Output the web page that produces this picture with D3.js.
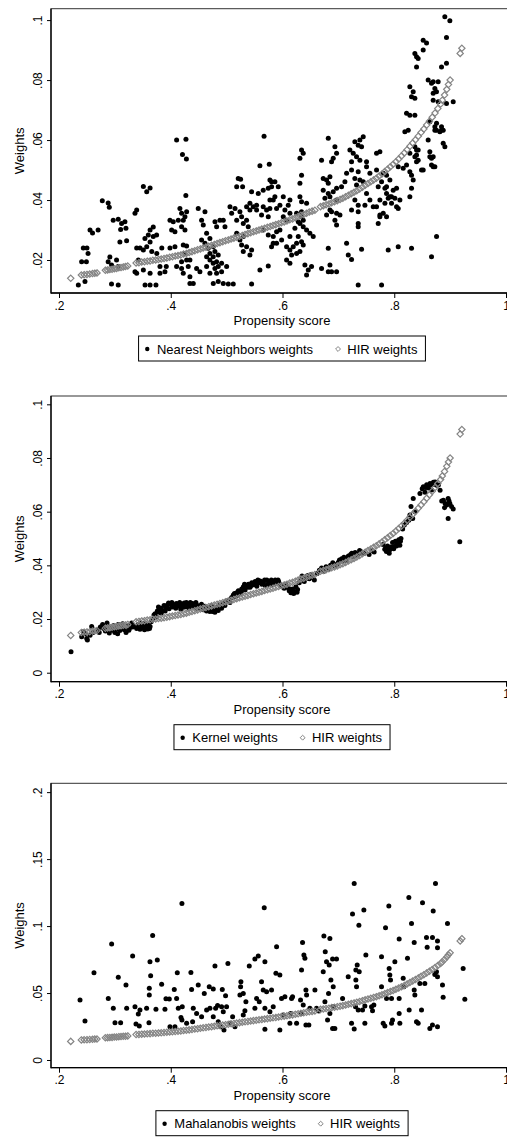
<!DOCTYPE html>
<html>
<head>
<meta charset="utf-8">
<script src="https://cdn.jsdelivr.net/npm/d3@7"></script>
<style>
  body { margin: 0; background: #fff; }
  svg { display: block; font-family: "Liberation Sans", Arial, sans-serif; }
</style>
</head>
<body>
<script>
// propensity score ticks, shared by the three panels
const xTicks = [0.2, 0.4, 0.6, 0.8, 1]

const yTicksNN = [0.02, 0.04, 0.06, 0.08, 0.1]
const yTicksKernel = [0, 0.02, 0.04, 0.06, 0.08, 0.1]
const yTicksMaha = [0, 0.05, 0.1, 0.15, 0.2]

const seriesNames = ['Nearest Neighbors weights', 'Kernel weights', 'Mahalanobis weights']
const hirName = 'HIR weights'

// [propensity score, weight]
const hirWeights = [
  [0.221, 0.0139],
  [0.240, 0.0150], [0.245, 0.0151], [0.250, 0.0152], [0.255, 0.0153], [0.260, 0.0155], [0.264, 0.0156], [0.268, 0.0157],
  [0.283, 0.0166], [0.287, 0.0167], [0.291, 0.0168], [0.295, 0.0169], [0.299, 0.0171], [0.303, 0.0172], [0.307, 0.0174],
  [0.311, 0.0175], [0.315, 0.0177], [0.319, 0.0178], [0.323, 0.0180],
  [0.338, 0.0190], [0.343, 0.0191], [0.348, 0.0193], [0.353, 0.0194], [0.358, 0.0196], [0.363, 0.0197], [0.368, 0.0199],
  [0.373, 0.0200], [0.378, 0.0202], [0.383, 0.0203], [0.388, 0.0205], [0.393, 0.0207], [0.398, 0.0209], [0.403, 0.0211],
  [0.408, 0.0213], [0.413, 0.0215], [0.418, 0.0217], [0.423, 0.0220], [0.428, 0.0222], [0.433, 0.0225], [0.438, 0.0228],
  [0.443, 0.0231], [0.448, 0.0234], [0.453, 0.0237], [0.458, 0.0240], [0.463, 0.0243], [0.468, 0.0246], [0.473, 0.0249],
  [0.478, 0.0252], [0.483, 0.0255], [0.488, 0.0258], [0.493, 0.0261], [0.498, 0.0264], [0.503, 0.0267], [0.508, 0.0270],
  [0.513, 0.0273], [0.518, 0.0276], [0.523, 0.0279], [0.528, 0.0282], [0.533, 0.0285], [0.538, 0.0288], [0.543, 0.0291],
  [0.548, 0.0294], [0.553, 0.0297], [0.558, 0.0300], [0.563, 0.0303], [0.568, 0.0306], [0.573, 0.0309], [0.578, 0.0312],
  [0.583, 0.0315], [0.588, 0.0318], [0.593, 0.0321], [0.598, 0.0324], [0.603, 0.0327], [0.608, 0.0330], [0.613, 0.0334],
  [0.618, 0.0337], [0.623, 0.0341], [0.628, 0.0345], [0.633, 0.0349], [0.638, 0.0352], [0.643, 0.0356], [0.648, 0.0360],
  [0.653, 0.0363], [0.658, 0.0366],
  [0.668, 0.0378], [0.673, 0.0381], [0.678, 0.0384], [0.683, 0.0387], [0.688, 0.0391], [0.693, 0.0394], [0.698, 0.0398],
  [0.703, 0.0402], [0.708, 0.0406], [0.713, 0.0411], [0.718, 0.0416], [0.723, 0.0421], [0.728, 0.0426], [0.733, 0.0431],
  [0.738, 0.0437], [0.743, 0.0443], [0.748, 0.0449], [0.753, 0.0455], [0.758, 0.0461], [0.763, 0.0467], [0.768, 0.0473],
  [0.773, 0.0480], [0.778, 0.0487], [0.783, 0.0495], [0.788, 0.0503], [0.793, 0.0511], [0.798, 0.0519], [0.803, 0.0528],
  [0.808, 0.0537], [0.813, 0.0547], [0.818, 0.0557], [0.823, 0.0568], [0.828, 0.0579], [0.833, 0.0590], [0.838, 0.0601],
  [0.843, 0.0613], [0.848, 0.0625], [0.853, 0.0637], [0.858, 0.0650], [0.863, 0.0663], [0.868, 0.0676], [0.873, 0.0690],
  [0.878, 0.0705], [0.883, 0.0720], [0.886, 0.0733], [0.890, 0.0750], [0.894, 0.0769], [0.897, 0.0785], [0.900, 0.0800],
  [0.918, 0.0889], [0.921, 0.0906]
]

const nnWeights = [
  [.4105, .0600], [.4272, .0603], [.4210, .0552], [.4280, .0537], [.5670, .0613], [.5596, .0514], [.5763, .0519], [.4270, .0415],
  [.3510, .0445], [.3630, .0440], [.3570, .0428], [.2775, .0398], [.2880, .0390], [.2900, .0376], [.3390, .0367], [.3360, .0356],
  [.2555, .0300], [.2600, .0290], [.2700, .0300], [.2435, .0240], [.2500, .0240], [.2520, .0222], [.2405, .0194], [.2490, .0194],
  [.2346, .0117], [.2465, .0128],
  [.2910, .0210], [.2880, .0194], [.2940, .0183], [.3030, .0200], [.3060, .0178], [.2940, .0120], [.3060, .0117],
  [.2970, .0333], [.3060, .0336], [.3120, .0322], [.3180, .0328], [.3103, .0302], [.3198, .0306], [.3090, .0260], [.3210, .0264],
  [.3390, .0240], [.3450, .0240], [.3360, .0161], [.3390, .0156], [.3510, .0167], [.3630, .0156], [.3540, .0117], [.3630, .0117],
  [.3735, .0117], [.3420, .0200],
  [.3630, .0300], [.3687, .0310], [.3598, .0283], [.3687, .0278], [.3747, .0283], [.3538, .0272], [.3630, .0260], [.3570, .0244],
  [.3510, .0233], [.3660, .0228], [.3750, .0222], [.3840, .0240], [.3807, .0178], [.3920, .0178], [.3896, .0161], [.3807, .0156],
  [.3986, .0333], [.4045, .0328], [.4135, .0333], [.4164, .0372], [.4194, .0356], [.4254, .0344], [.4284, .0361], [.4224, .0333],
  [.4194, .0311], [.4254, .0300],
  [.4016, .0300], [.4075, .0294], [.3986, .0240], [.4075, .0244], [.4224, .0250], [.4284, .0247], [.4254, .0222], [.4194, .0194],
  [.4284, .0200], [.4343, .0200],
  [.4105, .0178], [.4194, .0172], [.4313, .0178], [.4224, .0156], [.4343, .0144], [.4343, .0122], [.4403, .0122],
  [.4492, .0372], [.4612, .0361], [.4552, .0333], [.4582, .0317], [.4642, .0289],
  [.4552, .0267], [.4612, .0256], [.4701, .0272], [.4671, .0239], [.4760, .0244], [.4701, .0222], [.4790, .0228], [.4850, .0217],
  [.4760, .0211], [.4642, .0211], [.4701, .0200], [.4760, .0189], [.4820, .0194], [.4850, .0178], [.4910, .0189], [.4790, .0172],
  [.4642, .0178], [.4463, .0172], [.4522, .0161], [.4701, .0156], [.4820, .0156], [.4910, .0161], [.5000, .0178],
  [.4761, .0122], [.4850, .0128], [.4940, .0122], [.5030, .0120], [.5119, .0120],
  [.4791, .0328], [.4880, .0333], [.4821, .0311], [.4940, .0333], [.4970, .0311],
  [.5060, .0378], [.5150, .0372], [.5090, .0356], [.5180, .0333], [.5238, .0361], [.5268, .0344], [.5298, .0322], [.5357, .0333],
  [.5387, .0311], [.5208, .0472], [.5286, .0444], [.5180, .0444], [.5250, .0469],
  [.5357, .0378], [.5417, .0367], [.5477, .0378], [.5536, .0367], [.5417, .0389], [.5536, .0383], [.5655, .0378], [.5715, .0367],
  [.5625, .0350], [.5745, .0344],
  [.5447, .0428], [.5566, .0422], [.5655, .0433], [.5745, .0439], [.5804, .0461], [.5834, .0400], [.5894, .0372], [.5774, .0372],
  [.5180, .0289], [.5238, .0267], [.5298, .0278], [.5268, .0250], [.5357, .0244], [.5447, .0233], [.5417, .0217], [.5298, .0228],
  [.5655, .0300], [.5745, .0283], [.5804, .0244], [.5834, .0256], [.5894, .0294],
  [.5596, .0167], [.5745, .0180], [.5447, .0120],
  [.6819, .0606], [.6341, .0567], [.6312, .0539], [.6371, .0556],
  [.6699, .0533], [.6878, .0528], [.6908, .0539], [.6968, .0556], [.6938, .0578],
  [.7206, .0567], [.7295, .0594], [.7355, .0583], [.7445, .0611], [.7385, .0600], [.7415, .0578], [.7266, .0556], [.7325, .0544],
  [.7385, .0533], [.7504, .0528], [.7236, .0528], [.7683, .0556], [.7743, .0561],
  [.7236, .0500], [.7355, .0494], [.7295, .0472], [.7385, .0467], [.7504, .0511], [.7564, .0489], [.7325, .0450], [.7445, .0461],
  [.7683, .0500], [.7803, .0489], [.7862, .0483], [.7773, .0461], [.7922, .0467], [.7713, .0444], [.7833, .0439],
  [.7862, .0444], [.7981, .0433], [.8041, .0439], [.7922, .0411], [.8011, .0406], [.8101, .0400], [.7951, .0389], [.8041, .0378],
  [.8071, .0372],
  [.8071, .0511], [.8160, .0506], [.8220, .0517], [.8279, .0494], [.8309, .0483], [.8339, .0467], [.8309, .0439], [.8399, .0528],
  [.8399, .0550], [.8428, .0567],
  [.8279, .0411], [.7862, .0422], [.7743, .0400], [.7683, .0378], [.7862, .0344], [.7743, .0350],
  [.8518, .0500], [.8637, .0544], [.8697, .0511], [.8667, .0539],
  [.8607, .0600], [.8876, .0589], [.8906, .0578], [.8757, .0656], [.8727, .0633], [.8846, .0633], [.8190, .0628], [.8250, .0633],
  [.8279, .0683], [.8369, .0683], [.8220, .0689],
  [.8757, .0278], [.8667, .0211], [.8309, .0239], [.8071, .0244], [.7892, .0233],
  [.7355, .0117], [.7773, .0117],
  [.7147, .0256], [.7177, .0217], [.7236, .0202], [.7415, .0236], [.6819, .0239],
  [.6849, .0183], [.6819, .0161], [.6878, .0161], [.6968, .0161], [.6699, .0172],
  [.6401, .0183], [.6461, .0167], [.6520, .0178], [.6431, .0150], [.6073, .0200], [.6133, .0189],
  [.5894, .0256], [.5984, .0267], [.6073, .0244], [.6133, .0233], [.6192, .0244], [.6252, .0222], [.6312, .0228], [.6163, .0217],
  [.6252, .0256], [.6371, .0250], [.6490, .0289], [.6550, .0278], [.6431, .0300], [.6371, .0311],
  [.6312, .0322], [.6222, .0306], [.6282, .0278], [.6341, .0261], [.6133, .0278], [.5954, .0300], [.5835, .0278],
  [.5775, .0400], [.5864, .0411], [.6014, .0411], [.5954, .0383], [.6103, .0383], [.6133, .0400], [.6312, .0411], [.6341, .0394],
  [.6431, .0389],
  [.6043, .0367], [.6014, .0344], [.6073, .0333], [.6133, .0356], [.6341, .0361], [.6341, .0344], [.6252, .0356], [.6371, .0333],
  [.6282, .0328],
  [.5775, .0467], [.5864, .0461], [.5924, .0444], [.5805, .0444], [.6341, .0483], [.6312, .0456],
  [.6729, .0472], [.6789, .0467], [.6849, .0478], [.6819, .0456], [.6729, .0433], [.6819, .0422], [.6759, .0406], [.6849, .0411],
  [.6908, .0428], [.6968, .0439],
  [.7057, .0444], [.7117, .0461], [.7147, .0489], [.6968, .0400], [.6968, .0356], [.7028, .0350], [.6878, .0361], [.6938, .0333],
  [.6968, .0317], [.6789, .0350], [.6849, .0367],
  [.7295, .0400], [.7355, .0383], [.7236, .0367], [.7355, .0361], [.7475, .0383], [.7564, .0400], [.7504, .0422], [.7624, .0378],
  [.7355, .0322], [.7355, .0311], [.7713, .0322], [.7743, .0344], [.7803, .0356], [.7833, .0389], [.7892, .0406], [.7951, .0411],
  [.8905, .1011], [.8995, .0998], [.8935, .0942],
  [.8518, .0933], [.8578, .0924], [.8518, .0900],
  [.8369, .0889], [.8399, .0878], [.8428, .0872], [.8399, .0844], [.8846, .0844], [.8935, .0856],
  [.8607, .0800], [.8667, .0789], [.8697, .0794], [.8786, .0794], [.8727, .0772], [.8756, .0761], [.8697, .0756],
  [.8279, .0778], [.8339, .0761], [.8309, .0744], [.8369, .0739],
  [.8697, .0733], [.8786, .0728], [.8935, .0722], [.9055, .0728],
  [.8637, .0661], [.8727, .0644], [.8756, .0633], [.8816, .0628], [.8876, .0633], [.8846, .0644],
  [.8369, .0578], [.8399, .0567], [.8369, .0544], [.8428, .0533], [.8279, .0556],
  [.8637, .0561], [.8697, .0544], [.8727, .0511], [.8667, .0517], [.8488, .0500]
]

const kernelWeights = [
  [.2215, .0078],
  [.2406, .0134], [.2436, .0153], [.2496, .0127], [.2508, .0122], [.2556, .0140], [.2585, .0172], [.2610, .0150], [.2470, .0145],
  [.2700, .0160], [.2740, .0170], [.2780, .0180], [.2800, .0165], [.2830, .0155], [.2850, .0175], [.2880, .0160], [.2900, .0148],
  [.2930, .0170], [.2950, .0158], [.2980, .0176], [.3000, .0150], [.3030, .0163], [.3060, .0180], [.3090, .0157], [.3110, .0170],
  [.3140, .0182], [.3170, .0160], [.3200, .0150], [.3230, .0175], [.3260, .0165], [.3300, .0185],
  [.2720, .0150], [.2860, .0185], [.2960, .0165], [.3050, .0145], [.3150, .0165], [.3250, .0158], [.3320, .0170],
  [.3360, .0172], [.3390, .0165], [.3420, .0180], [.3450, .0162], [.3480, .0175], [.3510, .0168], [.3540, .0185], [.3570, .0170],
  [.3600, .0178], [.3620, .0165], [.3650, .0190], [.3400, .0170], [.3530, .0160], [.3590, .0163],
  [.3460, .0185], [.3560, .0178], [.3630, .0172],
  [.3680, .0200], [.3700, .0215], [.3720, .0220], [.3740, .0208], [.3760, .0230], [.3790, .0225], [.3820, .0240], [.3850, .0232],
  [.3880, .0250], [.3910, .0242], [.3940, .0252], [.3970, .0238], [.4000, .0255], [.4030, .0245], [.4060, .0250], [.4090, .0240],
  [.4120, .0255], [.4150, .0248], [.4180, .0236], [.4210, .0252], [.4240, .0260], [.4270, .0246], [.4300, .0255], [.4330, .0240],
  [.4360, .0250], [.4390, .0258], [.4420, .0245], [.4450, .0262], [.4480, .0250],
  [.3780, .0245], [.3830, .0222], [.3900, .0230], [.3960, .0260], [.4020, .0262], [.4100, .0258], [.4160, .0262], [.4230, .0244],
  [.4280, .0262], [.4350, .0262], [.4400, .0248], [.4470, .0240],
  [.4520, .0240], [.4550, .0255], [.4580, .0235], [.4610, .0248], [.4640, .0230], [.4670, .0242], [.4700, .0228], [.4730, .0250],
  [.4760, .0236], [.4790, .0225], [.4820, .0245], [.4850, .0232], [.4880, .0252], [.4910, .0240], [.4940, .0258], [.4970, .0250],
  [.5000, .0265], [.4570, .0246], [.4630, .0238], [.4690, .0235], [.4750, .0228], [.4810, .0236],
  [.5030, .0270], [.5060, .0262], [.5090, .0280], [.5120, .0290], [.5150, .0283], [.5180, .0298], [.5210, .0305], [.5240, .0295],
  [.5270, .0312], [.5300, .0320], [.5330, .0308], [.5360, .0325], [.5390, .0330], [.5420, .0318], [.5450, .0335], [.5480, .0328],
  [.5510, .0340], [.5540, .0322], [.5570, .0335], [.5600, .0342], [.5630, .0330], [.5660, .0338], [.5690, .0325], [.5720, .0345],
  [.5750, .0335], [.5780, .0340], [.5810, .0328], [.5840, .0338], [.5870, .0345], [.5900, .0332], [.5930, .0340], [.5960, .0330],
  [.5140, .0295], [.5200, .0288], [.5260, .0300], [.5320, .0330], [.5380, .0318], [.5440, .0325], [.5500, .0332], [.5560, .0345],
  [.5620, .0338], [.5680, .0345], [.5740, .0328], [.5800, .0345], [.5860, .0335], [.5920, .0345], [.5980, .0322],
  [.6000, .0322], [.6030, .0315], [.6060, .0330], [.6090, .0318], [.6120, .0305], [.6150, .0298], [.6180, .0312], [.6210, .0302],
  [.6240, .0320], [.6270, .0310], [.6300, .0335], [.6330, .0345], [.6360, .0352], [.6390, .0340], [.6420, .0358], [.6450, .0362],
  [.6480, .0350], [.6510, .0365], [.6540, .0355], [.6570, .0345],
  [.6110, .0315], [.6160, .0305], [.6200, .0295], [.6260, .0300], [.6350, .0360], [.6440, .0352], [.6500, .0358],
  [.6620, .0370], [.6660, .0382], [.6700, .0390], [.6740, .0378], [.6780, .0395], [.6820, .0385], [.6860, .0400], [.6900, .0410],
  [.6940, .0398], [.6980, .0405], [.7020, .0420], [.7060, .0425], [.7100, .0430], [.7140, .0418], [.7180, .0435], [.7220, .0440],
  [.7260, .0432], [.7300, .0448], [.7340, .0442], [.7380, .0455], [.7420, .0450], [.7460, .0445],
  [.7000, .0412], [.7080, .0415], [.7160, .0428], [.7240, .0445], [.7320, .0438], [.7400, .0445],
  [.7550, .0440], [.7600, .0455], [.7640, .0450],
  [.7800, .0478], [.7830, .0460], [.7860, .0452], [.7880, .0472], [.7910, .0445], [.7940, .0468], [.7970, .0485], [.8000, .0470],
  [.8020, .0490], [.8050, .0480], [.8080, .0495], [.8100, .0475], [.8120, .0500],
  [.7850, .0465], [.7920, .0458], [.7990, .0462], [.8040, .0472], [.8070, .0485], [.8110, .0490],
  [.8150, .0535], [.8180, .0550], [.8220, .0560], [.8260, .0568], [.8280, .0588], [.8300, .0619], [.8340, .0649], [.8370, .0600],
  [.8330, .0575],
  [.8460, .0668], [.8500, .0685], [.8520, .0693], [.8550, .0672], [.8580, .0700], [.8610, .0688], [.8640, .0705], [.8670, .0681],
  [.8700, .0710], [.8730, .0711], [.8760, .0698], [.8790, .0699], [.8820, .0680],
  [.8560, .0690], [.8620, .0698], [.8680, .0700], [.8740, .0702],
  [.8850, .0640], [.8880, .0643], [.8910, .0630], [.8940, .0625], [.8965, .0649], [.8995, .0630], [.9025, .0619], [.9055, .0610],
  [.8900, .0615], [.8980, .0640],
  [.8965, .0575], [.9173, .0488]
]

const mahalanobisWeights = [
  [.7283, .1318], [.8738, .1318], [.8261, .1214], [.8506, .1174], [.8697, .1112], [.8953, .1020], [.7903, .1149], [.7253, .1090],
  [.7456, .1120], [.7367, .1007], [.8309, .1020], [.7844, .0988],
  [.8088, .0903], [.8357, .0878], [.8577, .0915], [.8684, .0915], [.8774, .0888], [.8774, .0838], [.8589, .0841],
  [.9233, .0684], [.9263, .0453], [.8756, .0659], [.8774, .0622], [.8726, .0639], [.8863, .0560], [.8875, .0468],
  [.4200, .1169], [.5673, .1137],
  [.3676, .0930], [.2942, .0866], [.3318, .0776], [.2626, .0652], [.2376, .0448], [.2465, .0291],
  [.2882, .0460], [.2972, .0386], [.3002, .0279], [.3103, .0279], [.3061, .0617], [.3199, .0560], [.3211, .0386], [.3360, .0398],
  [.3419, .0343], [.3449, .0373], [.3378, .0269], [.3437, .0254],
  [.3628, .0734], [.3640, .0629], [.3616, .0535], [.3616, .0485], [.3759, .0746], [.3735, .0378], [.3568, .0386], [.3610, .0279],
  [.3837, .0565], [.3896, .0378], [.3914, .0458], [.3974, .0455], [.3986, .0249], [.4075, .0249], [.4063, .0527], [.4105, .0460],
  [.4117, .0652], [.4135, .0386], [.4183, .0318], [.4206, .0398], [.4200, .0298],
  [.4361, .0654], [.4373, .0527], [.4284, .0274], [.4463, .0348], [.4492, .0560], [.4403, .0386], [.4391, .0286],
  [.4600, .0497], [.4642, .0373], [.4701, .0386], [.4689, .0547], [.4761, .0530], [.4791, .0701], [.4803, .0386], [.4838, .0406],
  [.4922, .0527], [.4910, .0398], [.4892, .0249], [.4952, .0224], [.4981, .0480], [.5023, .0721],
  [.4552, .0323], [.4761, .0323], [.4850, .0286], [.4940, .0361], [.4999, .0398], [.5107, .0323], [.5149, .0249], [.5059, .0274],
  [.5256, .0585], [.5250, .0547], [.5298, .0497], [.5238, .0485], [.5345, .0435], [.5327, .0368], [.5298, .0336], [.5405, .0702],
  [.5506, .0754], [.5566, .0776], [.5625, .0585], [.5685, .0734], [.5536, .0460], [.5584, .0435], [.5506, .0386], [.5685, .0386],
  [.5655, .0522], [.5715, .0510], [.5804, .0522], [.5775, .0361], [.5685, .0229], [.5834, .0398], [.5882, .0647], [.5953, .0634],
  [.5894, .0846], [.5953, .0224], [.5983, .0460], [.6043, .0473], [.6013, .0336], [.6132, .0274],
  [.6162, .0460], [.6180, .0473], [.6144, .0348], [.6252, .0274], [.6341, .0672], [.6359, .0878], [.6383, .0784], [.6401, .0759],
  [.6419, .0522], [.6431, .0485], [.6419, .0261], [.6472, .0261], [.6323, .0448], [.6371, .0410], [.6341, .0348], [.6490, .0386],
  [.6580, .0522], [.6609, .0386], [.6651, .0366], [.6741, .0925], [.6765, .0808], [.6729, .0659], [.6788, .0734], [.6848, .0908],
  [.6836, .0709], [.6866, .0597], [.6908, .0547], [.6824, .0497], [.6759, .0435], [.6896, .0754], [.6967, .0754], [.6806, .0299],
  [.6896, .0236], [.6937, .0236], [.6848, .0348], [.6908, .0398],
  [.7075, .0460], [.7176, .0622], [.7236, .0274], [.7283, .0231], [.7307, .0398], [.7313, .0672], [.7313, .0597], [.7325, .0547],
  [.7337, .0709], [.7355, .0373], [.7373, .0659], [.7432, .0373], [.7474, .0403], [.7474, .0274], [.7492, .0784], [.7593, .0398],
  [.7611, .0368], [.7635, .0410], [.7772, .0547], [.7772, .0771], [.7802, .0274], [.7832, .0254], [.7862, .0460],
  [.7909, .0684], [.7921, .0634], [.7933, .0597], [.7951, .0460], [.7951, .0274], [.7969, .0299], [.8011, .0734], [.8088, .0460],
  [.8088, .0348], [.8100, .0274], [.8160, .0610], [.8172, .0547], [.8237, .0759], [.8267, .0373], [.8357, .0522], [.8369, .0485],
  [.8398, .0286], [.8428, .0274], [.8458, .0572], [.8488, .0373], [.8547, .0572], [.8637, .0236], [.8684, .0261], [.8774, .0249]
]

const width = 507
const height = 1138
const hirColor = '#858585'
const fmt = d => d === 0 ? '0' : String(d).replace(/^0\./, '.')

// hollow square diamond, as Stata draws it
const diamond = {
  draw (ctx, size) {
    const h = Math.sqrt(size / 2)
    ctx.moveTo(0, -h)
    ctx.lineTo(h, 0)
    ctx.lineTo(0, h)
    ctx.lineTo(-h, 0)
    ctx.closePath()
  }
}

const panels = [
  { points: nnWeights, name: seriesNames[0], yTicks: yTicksNN, yDomain: [0.009, 0.1038], top: 8.7, bottom: 293 },
  { points: kernelWeights, name: seriesNames[1], yTicks: yTicksKernel, yDomain: [-0.00335, 0.1031], top: 396, bottom: 681.7 },
  { points: mahalanobisWeights, name: seriesNames[2], yTicks: yTicksMaha, yDomain: [-0.00575, 0.2066], top: 783.3, bottom: 1067.7 }
]

const plotLeft = 51
const plotRight = 513
const centerX = (plotLeft + plotRight) / 2

const xScale = d3.scaleLinear().domain([0.2, 1]).range([59, 506])

const svg = d3.select('body').append('svg')
  .attr('width', width)
  .attr('height', height)

panels.forEach(panel => {
  const yScale = d3.scaleLinear().domain(panel.yDomain).range([panel.bottom, panel.top])
  const g = svg.append('g')

  // plot region frame
  g.append('rect')
    .attr('x', plotLeft)
    .attr('y', panel.top)
    .attr('width', plotRight - plotLeft)
    .attr('height', panel.bottom - panel.top)
    .attr('fill', 'none')
    .attr('stroke', '#333')
    .attr('stroke-width', 1)

  // y axis
  const yAxis = g.append('g')
    .attr('transform', 'translate(' + plotLeft + ',0)')
    .call(d3.axisLeft(yScale).tickValues(panel.yTicks).tickFormat(fmt).tickSize(4).tickSizeOuter(0))
  yAxis.select('.domain').remove()
  yAxis.selectAll('line').attr('stroke', '#000')
  yAxis.selectAll('text')
    .attr('x', null)
    .attr('dy', null)
    .attr('text-anchor', 'middle')
    .attr('transform', 'translate(-9,0) rotate(-90)')
    .attr('font-size', 12)
    .attr('fill', '#000')
  yAxis.attr('font-family', null).attr('font-size', null)

  // x axis
  const xAxis = g.append('g')
    .attr('transform', 'translate(0,' + panel.bottom + ')')
    .call(d3.axisBottom(xScale).tickValues(xTicks).tickFormat(fmt).tickSize(5).tickPadding(3).tickSizeOuter(0))
  xAxis.select('.domain').remove()
  xAxis.selectAll('line').attr('stroke', '#000')
  xAxis.selectAll('text').attr('font-size', 12).attr('fill', '#000')
  xAxis.attr('font-family', null).attr('font-size', null)

  // axis lines
  g.append('line')
    .attr('x1', plotLeft).attr('x2', plotLeft)
    .attr('y1', panel.top).attr('y2', panel.bottom + 0.5)
    .attr('stroke', '#000').attr('stroke-width', 1.3)
  g.append('line')
    .attr('x1', plotLeft).attr('x2', plotRight)
    .attr('y1', panel.bottom).attr('y2', panel.bottom)
    .attr('stroke', '#000').attr('stroke-width', 1.3)

  // titles
  g.append('text')
    .attr('transform', 'translate(24,' + (panel.top + panel.bottom) / 2 + ') rotate(-90)')
    .attr('text-anchor', 'middle')
    .attr('font-size', 13)
    .text('Weights')
  g.append('text')
    .attr('x', centerX)
    .attr('y', panel.bottom + 32)
    .attr('text-anchor', 'middle')
    .attr('font-size', 13)
    .text('Propensity score')

  // matched weights
  g.append('g').selectAll('circle')
    .data(panel.points)
    .join('circle')
    .attr('cx', d => xScale(d[0]))
    .attr('cy', d => yScale(d[1]))
    .attr('r', 2.5)
    .attr('fill', '#000')

  // HIR weights on top
  g.append('g').selectAll('path')
    .data(hirWeights)
    .join('path')
    .attr('transform', d => 'translate(' + xScale(d[0]) + ',' + yScale(d[1]) + ')')
    .attr('d', d3.symbol(diamond, 20))
    .attr('fill', 'none')
    .attr('stroke', hirColor)
    .attr('stroke-width', 1.2)

  // legend
  const legTop = panel.bottom + 43
  const leg = g.append('g')
  const box = leg.append('rect')
  const t1 = leg.append('text').attr('font-size', 13).attr('y', legTop + 17.5).text(panel.name)
  const t2 = leg.append('text').attr('font-size', 13).attr('y', legTop + 17.5).text(hirName)
  const w1 = t1.node().getComputedTextLength()
  const w2 = t2.node().getComputedTextLength()
  const total = 8.7 + 9.7 + w1 + 25 + 9.3 + w2 + 8
  const left = centerX - total / 2
  box.attr('x', left).attr('y', legTop)
    .attr('width', total).attr('height', 25)
    .attr('fill', '#fff').attr('stroke', '#000').attr('stroke-width', 1)
  leg.append('circle')
    .attr('cx', left + 8.7).attr('cy', legTop + 13)
    .attr('r', 2.2).attr('fill', '#000')
  t1.attr('x', left + 8.7 + 9.7)
  const dx = left + 8.7 + 9.7 + w1 + 25
  leg.append('path')
    .attr('transform', 'translate(' + dx + ',' + (legTop + 13) + ')')
    .attr('d', d3.symbol(diamond, 12))
    .attr('fill', 'none').attr('stroke', hirColor).attr('stroke-width', 1)
  t2.attr('x', dx + 9.3)
})
</script>
</body>
</html>
